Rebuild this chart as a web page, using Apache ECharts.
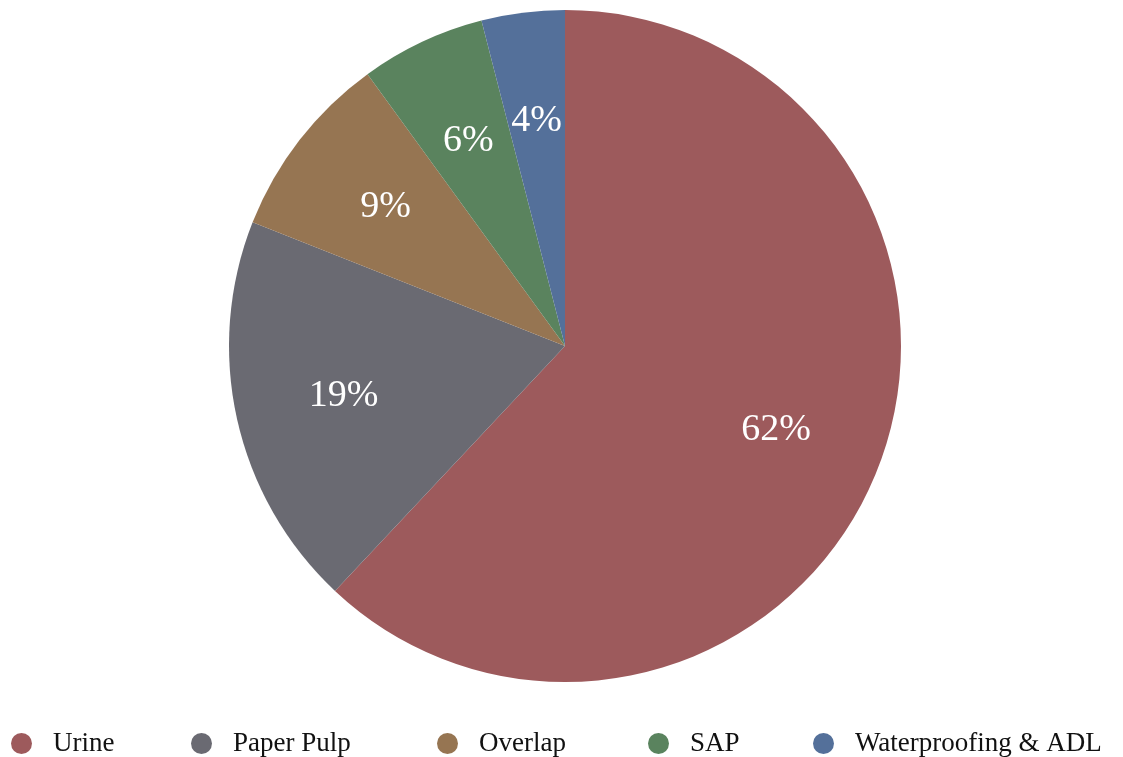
<!DOCTYPE html>
<html>
<head>
<meta charset="utf-8">
<script src="https://cdn.jsdelivr.net/npm/echarts@6/dist/echarts.min.js"></script>
<style>
html,body{margin:0;padding:0;background:#fff;}
#main{width:1123px;height:757px;}
</style>
</head>
<body>
<div id="main"></div>
<script>
const categories = ['Urine', 'Paper Pulp', 'Overlap', 'SAP', 'Waterproofing & ADL'];
const shares = [62, 19, 9, 6, 4];
const colors = ['#9d5a5c', '#6a6a72', '#967552', '#5a835e', '#54709a'];

const FONT = '"Liberation Serif", "DejaVu Serif", serif';
const R = 336;
const center = ['565px', '346px'];
const data = categories.map((c, i) => ({ name: c, value: shares[i], itemStyle: { color: colors[i] } }));
const legendLefts = [6, 186, 432, 643, 808];

const chart = echarts.init(document.getElementById('main'), null, { renderer: 'canvas' });
chart.setOption({
  backgroundColor: '#ffffff',
  animation: false,
  legend: categories.map((c, i) => ({
    data: [c],
    left: legendLefts[i],
    top: 725,
    orient: 'horizontal',
    icon: 'circle',
    itemWidth: 21,
    itemHeight: 21,
    itemGap: 0,
    textStyle: { fontFamily: FONT, fontSize: 27, color: '#111', padding: [0, 0, 0, 16] },
    selectedMode: false
  })),
  series: [
    {
      type: 'pie',
      center: center,
      radius: [0, R],
      startAngle: 90,
      clockwise: true,
      silent: true,
      label: { show: false },
      labelLine: { show: false },
      data: data
    },
    {
      type: 'pie',
      center: center,
      radius: [R / 3, R],
      startAngle: 90,
      clockwise: true,
      silent: true,
      legendHoverLink: false,
      itemStyle: { color: 'rgba(0,0,0,0)', opacity: 0 },
      label: {
        show: true,
        position: 'inside',
        formatter: p => p.value + '%',
        color: '#ffffff',
        fontFamily: FONT,
        fontSize: 38,
        opacity: 1
      },
      labelLine: { show: false },
      data: categories.map((c, i) => ({ name: c + ' ', value: shares[i], itemStyle: { opacity: 0 }, label: { opacity: 1 } }))
    }
  ]
});
</script>
</body>
</html>
